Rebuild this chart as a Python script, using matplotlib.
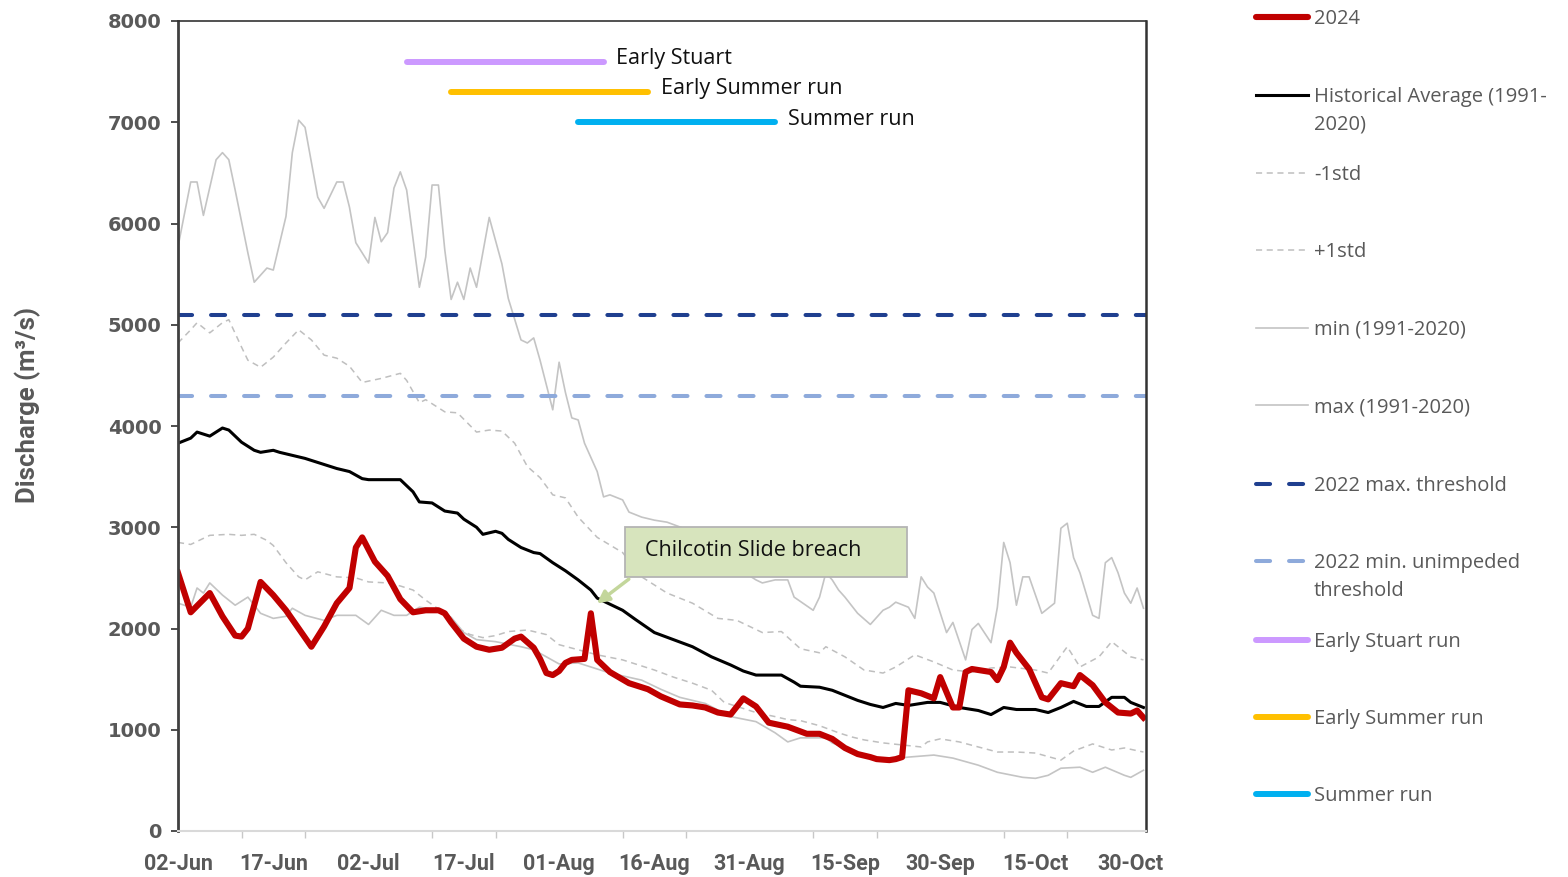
import matplotlib.pyplot as plt
from matplotlib.lines import Line2D
from matplotlib.patches import Rectangle

# x is days after 02-Jun
tick_days = [0, 15, 30, 45, 60, 75, 90, 105, 120, 135, 150]
tick_labels = ["02-Jun", "17-Jun", "02-Jul", "17-Jul", "01-Aug", "16-Aug",
               "31-Aug", "15-Sep", "30-Sep", "15-Oct", "30-Oct"]

day_2024 = [0, 2, 5, 7, 9, 10, 11, 13, 15, 17, 19, 21, 23, 25, 27, 28, 29, 31, 33, 35,
            37, 39, 41, 42, 43, 45, 47, 49, 51, 53, 54, 56, 57, 58, 59, 60, 61, 62, 64, 65,
            66, 68, 71, 74, 76, 79, 81, 83, 85, 87, 89, 91, 93, 96, 99, 101, 103, 105, 107, 109,
            110, 112, 113, 114, 115, 117, 119, 120, 122, 123, 124, 125, 128, 129, 130, 131, 132, 134, 136, 137,
            139, 141, 142, 144, 146, 148, 150, 151, 152]
flow_2024 = [2550, 2160, 2350, 2120, 1930, 1920, 2000, 2460, 2330, 2180, 2000, 1820, 2020, 2250, 2400, 2800, 2900, 2660, 2520, 2290,
             2160, 2180, 2180, 2150, 2060, 1900, 1820, 1790, 1810, 1900, 1920, 1810, 1700, 1560, 1540, 1580, 1660, 1690, 1700, 2150,
             1690, 1570, 1460, 1400, 1330, 1250, 1240, 1220, 1170, 1150, 1310, 1230, 1070, 1030, 960, 960, 910, 820, 760, 730,
             710, 700, 710, 730, 1390, 1360, 1310, 1520, 1220, 1220, 1570, 1600, 1570, 1490, 1620, 1860, 1760, 1600, 1320, 1300,
             1460, 1430, 1540, 1440, 1270, 1170, 1160, 1190, 1120]

day_avg = [0, 2, 3, 5, 7, 8, 10, 12, 13, 15, 16, 18, 20, 22, 24, 25, 27, 29, 30, 35,
           37, 38, 40, 42, 44, 45, 47, 48, 50, 51, 52, 54, 56, 57, 59, 61, 63, 65, 66, 68,
           70, 72, 75, 78, 81, 84, 87, 89, 91, 95, 97, 98, 101, 103, 105, 107, 109, 111, 113, 115,
           118, 120, 123, 126, 128, 130, 132, 135, 137, 139, 141, 143, 145, 147, 149, 150, 152]
flow_avg = [3830, 3880, 3940, 3900, 3980, 3960, 3840, 3760, 3740, 3760, 3740, 3710, 3680, 3640, 3600, 3580, 3550, 3480, 3470, 3470,
            3350, 3250, 3240, 3160, 3140, 3080, 3000, 2930, 2960, 2940, 2880, 2800, 2750, 2740, 2650, 2570, 2480, 2380, 2300, 2240,
            2180, 2090, 1960, 1890, 1820, 1720, 1640, 1580, 1540, 1540, 1470, 1430, 1420, 1390, 1340, 1290, 1250, 1220, 1260, 1240,
            1270, 1270, 1220, 1190, 1150, 1220, 1200, 1200, 1170, 1220, 1280, 1230, 1230, 1320, 1320, 1270, 1220]

day_lo = [0, 2, 5, 8, 10, 12, 14, 15, 17, 19, 20, 22, 25, 28, 30, 33, 35, 37, 39, 42,
          44, 46, 48, 50, 52, 55, 58, 60, 63, 66, 70, 75, 78, 81, 84, 86, 89, 91, 94, 96,
          98, 101, 104, 106, 108, 111, 114, 117, 118, 120, 123, 126, 129, 132, 135, 139, 141, 144, 147, 149, 152]
flow_lo = [2850, 2830, 2920, 2930, 2920, 2930, 2870, 2820, 2650, 2510, 2480, 2560, 2510, 2500, 2460, 2450, 2420, 2380, 2280, 2150,
           2000, 1940, 1910, 1930, 1970, 1985, 1940, 1840, 1790, 1740, 1690, 1590, 1520, 1460, 1390, 1270, 1210, 1170, 1130, 1100,
           1090, 1040, 970, 930, 900, 870, 850, 830, 880, 910, 880, 830, 780, 780, 770, 700, 790, 860, 800, 820, 780]

day_hi = [0, 2, 3, 5, 7, 8, 10, 11, 13, 15, 17, 19, 21, 23, 25, 27, 29, 32, 35, 36,
          38, 39, 42, 44, 47, 49, 51, 53, 55, 57, 59, 61, 63, 66, 70, 73, 77, 81, 85, 88,
          92, 95, 98, 101, 102, 105, 108, 111, 113, 116, 119, 122, 125, 128, 131, 135, 137, 140, 142, 145,
          147, 150, 152]
flow_hi = [4820, 4950, 5020, 4920, 5020, 5050, 4780, 4650, 4580, 4680, 4820, 4950, 4850, 4700, 4670, 4590, 4430, 4470, 4520, 4450,
           4230, 4260, 4140, 4130, 3940, 3960, 3950, 3830, 3600, 3490, 3320, 3290, 3100, 2900, 2750, 2510, 2350, 2250, 2100, 2080,
           1960, 1970, 1800, 1760, 1820, 1720, 1590, 1560, 1620, 1740, 1670, 1590, 1570, 1610, 1620, 1590, 1560, 1820, 1620, 1720,
           1870, 1720, 1690]

day_min = [0, 2, 3, 4, 5, 7, 9, 11, 13, 15, 17, 18, 20, 23, 25, 28, 30, 32, 34, 36,
           38, 41, 43, 45, 47, 50, 54, 56, 58, 60, 63, 65, 68, 73, 76, 79, 83, 87, 91, 94,
           96, 98, 102, 103, 107, 111, 115, 119, 122, 126, 129, 133, 135, 137, 139, 142, 144, 146, 149, 150, 152]
flow_min = [2250, 2210, 2400, 2350, 2450, 2330, 2230, 2310, 2150, 2100, 2120, 2200, 2130, 2080, 2130, 2130, 2040, 2180, 2130, 2130,
            2210, 2180, 2110, 1960, 1890, 1870, 1820, 1790, 1720, 1650, 1660, 1620, 1560, 1490, 1400, 1320, 1260, 1130, 1080, 970,
            880, 920, 920, 870, 770, 700, 730, 750, 720, 650, 580, 530, 520, 550, 620, 630, 580, 630, 550, 530, 600]

day_max = [0, 2, 3, 4, 6, 7, 8, 9, 11, 12, 14, 15, 17, 18, 19, 20, 22, 23, 25, 26,
           27, 28, 30, 31, 32, 33, 34, 35, 36, 38, 39, 40, 41, 42, 43, 44, 45, 46, 47, 49,
           51, 52, 54, 55, 56, 57, 59, 60, 61, 62, 63, 64, 66, 67, 68, 70, 71, 73, 75, 77,
           80, 83, 86, 89, 91, 92, 94, 96, 97, 100, 101, 102, 103, 104, 105, 107, 109, 111, 112, 113,
           115, 116, 117, 118, 119, 121, 122, 124, 125, 126, 128, 129, 130, 131, 132, 133, 134, 136, 138, 139,
           140, 141, 142, 144, 145, 146, 147, 148, 149, 150, 151, 152]
flow_max = [5770, 6410, 6410, 6080, 6630, 6700, 6630, 6330, 5710, 5420, 5560, 5540, 6070, 6700, 7020, 6950, 6260, 6150, 6410, 6410,
            6160, 5810, 5610, 6060, 5820, 5910, 6350, 6510, 6330, 5370, 5670, 6380, 6380, 5740, 5250, 5420, 5250, 5560, 5370, 6060,
            5600, 5260, 4850, 4820, 4870, 4650, 4160, 4630, 4330, 4080, 4060, 3830, 3550, 3300, 3320, 3270, 3150, 3100, 3070, 3050,
            2980, 2850, 2720, 2560, 2480, 2450, 2480, 2480, 2310, 2180, 2310, 2550, 2480, 2380, 2310, 2150, 2040, 2180, 2210, 2260,
            2210, 2100, 2510, 2410, 2350, 1960, 2060, 1690, 1990, 2050, 1860, 2210, 2850, 2650, 2230, 2510, 2510, 2150, 2250, 2990,
            3040, 2700, 2550, 2130, 2100, 2650, 2700, 2550, 2350, 2250, 2400, 2200]

max_threshold = 5100
min_threshold = 4300

run_names = ["Early Stuart", "Early Summer run", "Summer run"]
run_start = [36, 43, 63]
run_end = [67, 74, 94]
run_level = [7600, 7300, 7000]
run_colors = ["#cc99ff", "#ffc000", "#00b0f0"]

W, H = 1568, 877
fig = plt.figure(figsize=(W / 100, H / 100), dpi=100)
ax = fig.add_axes([178 / W, 1 - 831 / H, (1146 - 178) / W, (831 - 21) / H])

gray = "#c4c4c4"
ax.plot(day_max, flow_max, color=gray, lw=1.2)
ax.plot(day_min, flow_min, color=gray, lw=1.2)
ax.plot(day_hi, flow_hi, color="#bfbfbf", lw=1.1, ls=(0, (4, 3)))
ax.plot(day_lo, flow_lo, color="#bfbfbf", lw=1.1, ls=(0, (4, 3)))
ax.axhline(max_threshold, color="#1f3f8f", lw=2.9, ls=(0, (3.5, 4.7)), dash_capstyle="round")
ax.axhline(min_threshold, color="#8eaadb", lw=2.9, ls=(0, (3.5, 4.7)), dash_capstyle="round")
ax.plot(day_avg, flow_avg, color="black", lw=2.2)
ax.plot(day_2024, flow_2024, color="#c00000", lw=4.4, solid_joinstyle="round")

for name, s, e, lev, c in zip(run_names, run_start, run_end, run_level, run_colors):
    ax.plot([s, e], [lev, lev], color=c, lw=4.3, solid_capstyle="round")
    ax.text(e + 2.0, lev + 30, name, fontsize=15.5, family="Open Sans", va="center", color="#111111")

# callout box
ax.add_patch(Rectangle((0.4618, 0.3136), 0.2913, 0.0617, transform=ax.transAxes,
                       facecolor="#d7e4bd", edgecolor="#b4b4b4", lw=1.3, zorder=5))
ax.text(0.4824, 0.3457, "Chilcotin Slide breach", transform=ax.transAxes, fontsize=15.5,
        family="Open Sans", va="center", color="#111111", zorder=6)
ax.annotate("", xy=(65.6, 2230), xytext=(0.468, 0.313), textcoords="axes fraction",
            arrowprops=dict(arrowstyle="-|>", color="#c3d69b", lw=2.5, mutation_scale=18), zorder=6)

ax.set_xlim(0, 152.4)
ax.set_ylim(0, 8000)
ax.set_yticks(range(0, 8001, 1000))
ax.set_xticks(tick_days)
ax.set_xticklabels(tick_labels)
ax.set_xticks(range(0, 153, 10), minor=True)
ax.tick_params(axis="x", which="major", length=0, pad=16, labelsize=15.5, labelcolor="#595959")
ax.tick_params(axis="x", which="minor", length=5, color="#c8c8c8", width=1)
ax.tick_params(axis="y", length=5, width=1.3, color="#404040", pad=7, labelsize=14, labelcolor="#595959")
for lab in ax.get_xticklabels():
    lab.set_family("Roboto")
    lab.set_weight("bold")
for lab in ax.get_yticklabels():
    lab.set_weight("bold")

ax.spines["left"].set_color("#404040")
ax.spines["left"].set_linewidth(2)
ax.spines["right"].set_color("#333333")
ax.spines["right"].set_linewidth(1.8)
ax.spines["top"].set_color("#333333")
ax.spines["top"].set_linewidth(1.2)
ax.spines["bottom"].set_color("#d9d9d9")
ax.spines["bottom"].set_linewidth(1.5)

fig.text(28 / W, 1 - 405 / H, "Discharge (m³/s)", rotation=90, ha="center", va="center",
         fontsize=18.5, weight="bold", color="#595959", family=["Roboto", "DejaVu Sans"])

# legend drawn at the right
legend_items = [
    ("2024", 17, dict(color="#c00000", lw=4.4, solid_capstyle="round")),
    ("Historical Average (1991-\n2020)", 95, dict(color="black", lw=2.2)),
    ("-1std", 173, dict(color="#bfbfbf", lw=1.1, ls=(0, (4, 3)))),
    ("+1std", 250, dict(color="#bfbfbf", lw=1.1, ls=(0, (4, 3)))),
    ("min (1991-2020)", 328, dict(color=gray, lw=1.2)),
    ("max (1991-2020)", 405, dict(color=gray, lw=1.2)),
    ("2022 max. threshold", 484, dict(color="#1f3f8f", lw=2.9, ls=(0, (3.5, 4.7)), dash_capstyle="round")),
    ("2022 min. unimpeded\nthreshold", 561, dict(color="#8eaadb", lw=2.9, ls=(0, (3.5, 4.7)), dash_capstyle="round")),
    ("Early Stuart run", 640, dict(color=run_colors[0], lw=4.3, solid_capstyle="round")),
    ("Early Summer run", 717, dict(color=run_colors[1], lw=4.3, solid_capstyle="round")),
    ("Summer run", 794, dict(color=run_colors[2], lw=4.3, solid_capstyle="round")),
]
for label, yp, style in legend_items:
    fig.add_artist(Line2D([1256 / W, 1308 / W], [1 - yp / H, 1 - yp / H], transform=fig.transFigure, **style))
    fig.text(1314 / W, 1 - (yp - 8) / H, label, fontsize=14.5, family="Open Sans", color="#595959",
             va="top", ha="left", linespacing=1.5)

fig.savefig("out.png", dpi=100)
